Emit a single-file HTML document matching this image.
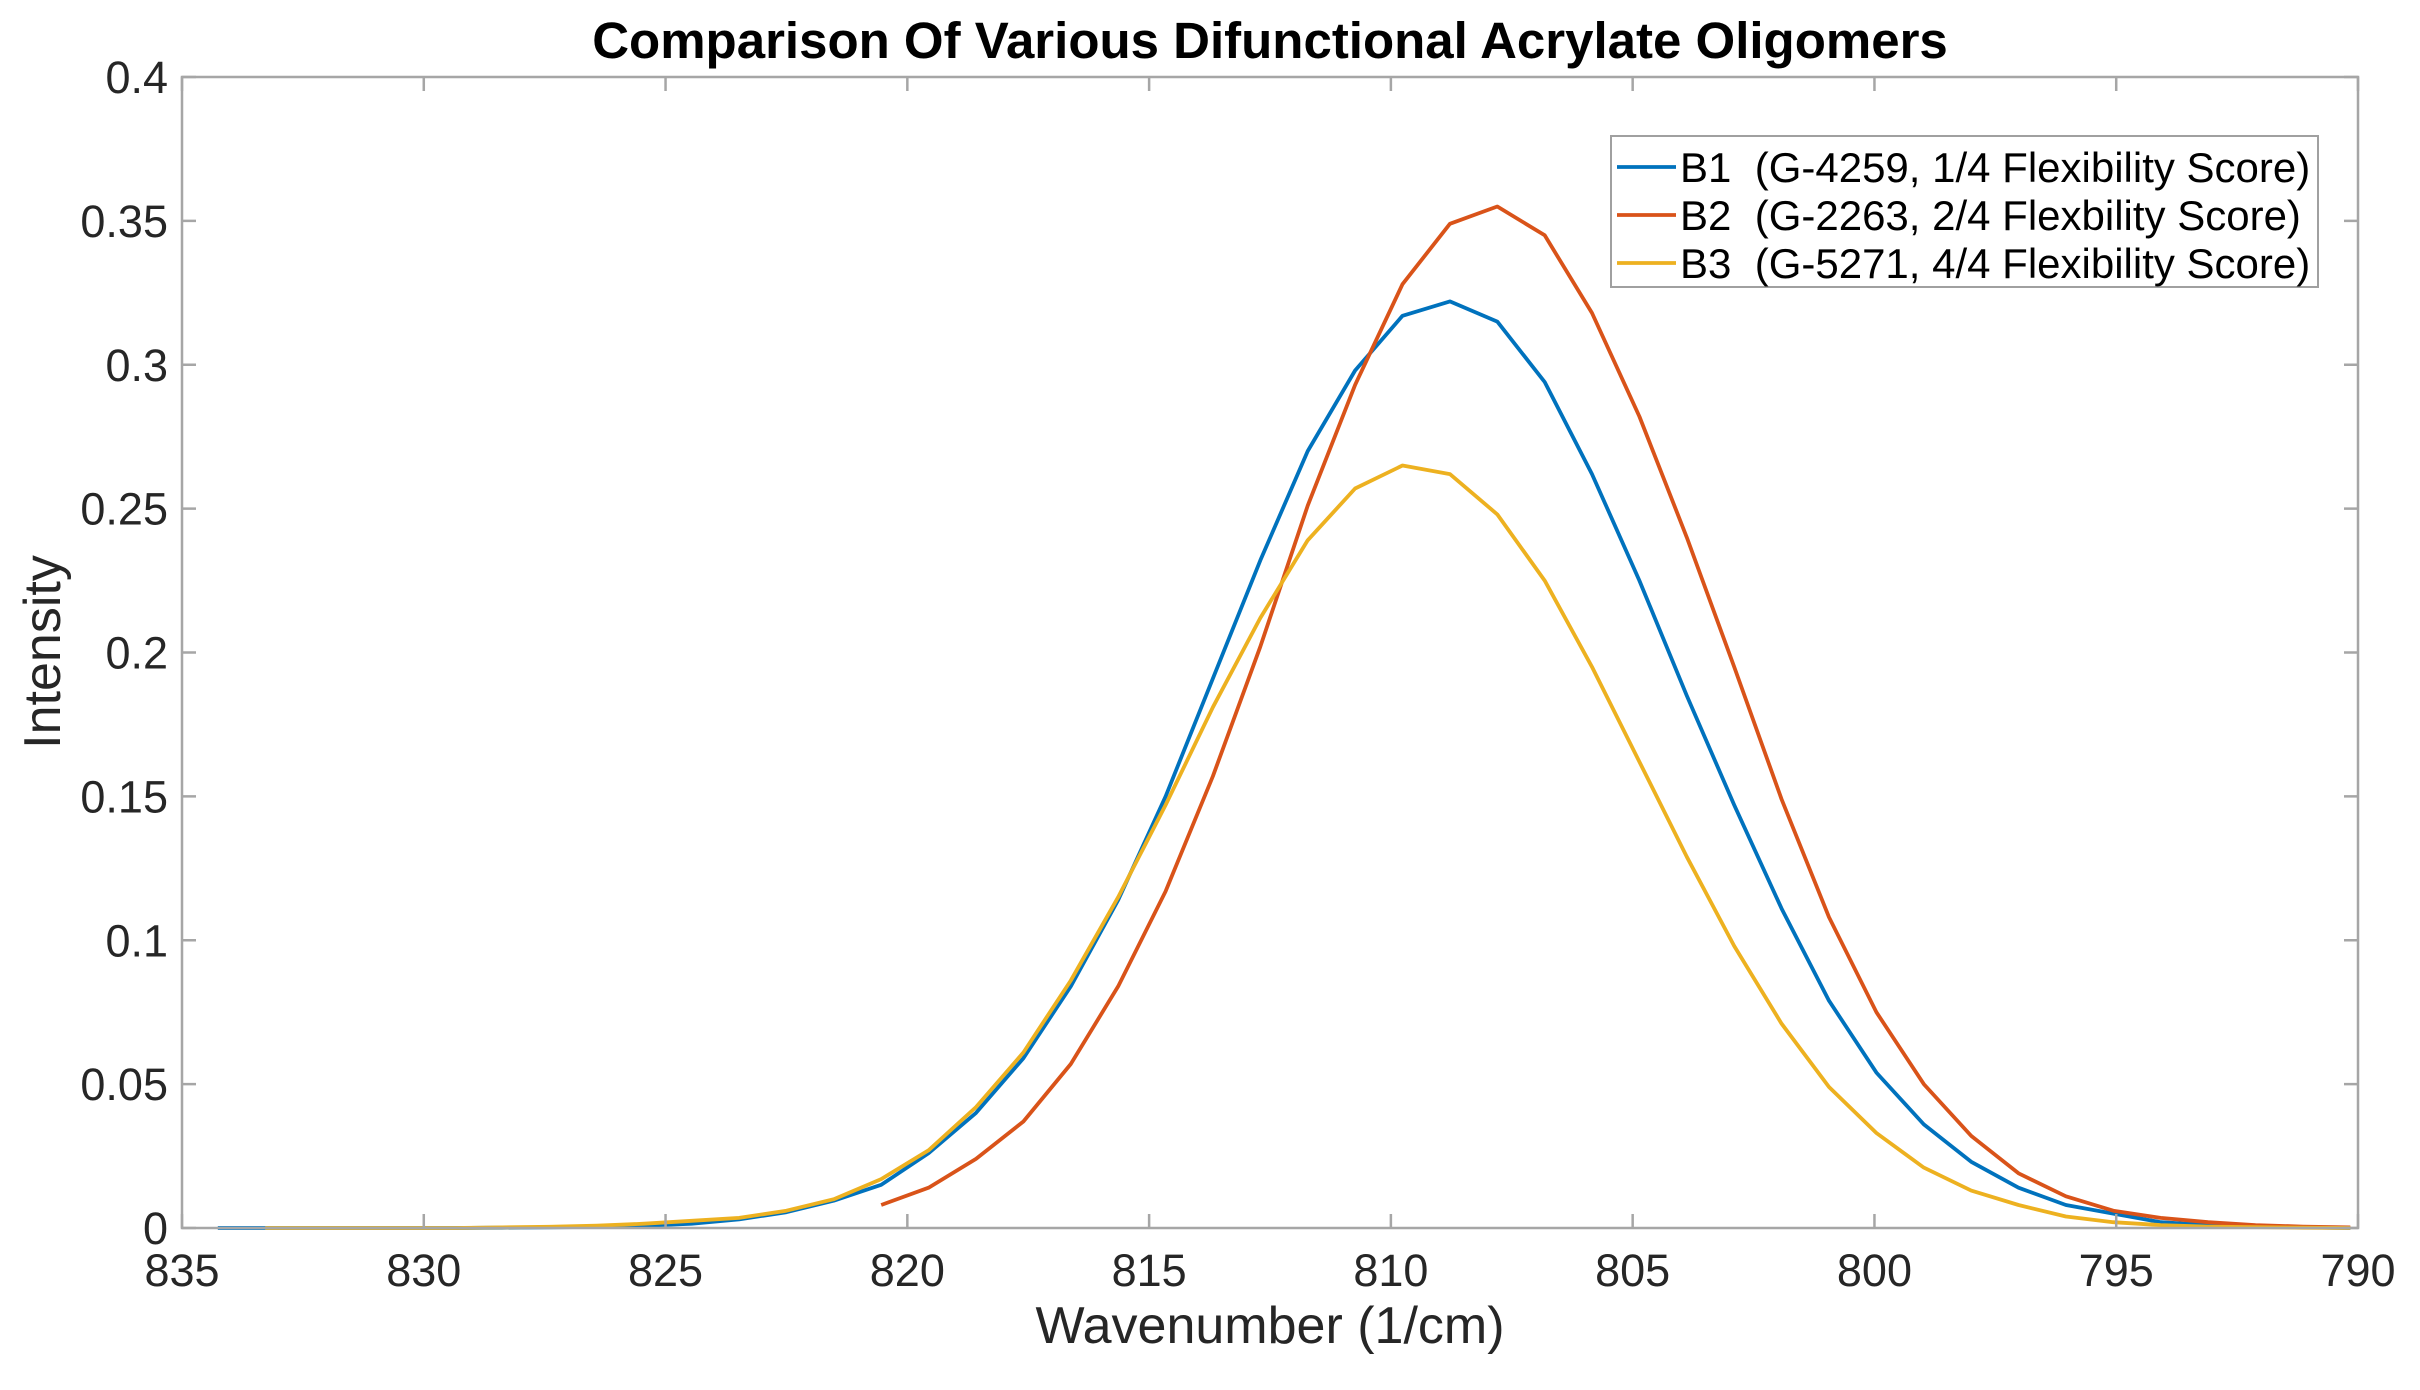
<!DOCTYPE html>
<html><head><meta charset="utf-8"><style>
html,body{margin:0;padding:0;background:#fff;}
svg{display:block;font-family:"Liberation Sans",Arial,sans-serif;}
</style></head><body>
<svg id="chart" width="2420" height="1390" viewBox="0 0 2420 1390" xmlns="http://www.w3.org/2000/svg">
<rect width="2420" height="1390" fill="#fff"/>
<g id="grid-layer"></g>
<g id="series-layer"></g>
<g id="axis-layer"></g>
<text x="1270" y="58" text-anchor="middle" font-size="51" font-weight="bold" fill="#000">Comparison Of Various Difunctional Acrylate Oligomers</text>
<text x="1270" y="1343" text-anchor="middle" font-size="52" fill="#262626">Wavenumber (1/cm)</text>
<text transform="translate(60,652) rotate(-90)" text-anchor="middle" font-size="52" fill="#262626">Intensity</text>
<g>
<rect x="1611" y="136" width="707" height="151" fill="#fff" stroke="#a0a0a0" stroke-width="2"/>
<g id="legend-entries"></g>
</g>
</svg>
<script>
const wavenumbers = [834.26,833.28,832.30,831.32,830.34,829.36,828.38,827.40,826.42,825.44,824.46,823.48,822.50,821.52,820.54,819.56,818.58,817.60,816.62,815.64,814.66,813.68,812.70,811.72,810.74,809.76,808.78,807.80,806.82,805.84,804.86,803.88,802.90,801.92,800.94,799.96,798.98,798.00,797.02,796.04,795.06,794.08,793.10,792.12,791.14,790.16];
const seriesB1 = [0,0,0,0,0,0,0.0001,0.0002,0.0004,0.0008,0.0015,0.003,0.0055,0.0095,0.015,0.026,0.04,0.059,0.084,0.114,0.15,0.191,0.232,0.27,0.298,0.317,0.322,0.315,0.294,0.262,0.225,0.185,0.147,0.111,0.079,0.054,0.036,0.023,0.014,0.008,0.005,0.002,0.001,0.0005,0.0002,0];
const seriesB2 = [null,null,null,null,null,null,null,null,null,null,null,null,null,null,0.008,0.014,0.024,0.037,0.057,0.084,0.117,0.157,0.202,0.251,0.293,0.328,0.349,0.355,0.345,0.318,0.282,0.24,0.195,0.149,0.108,0.075,0.05,0.032,0.019,0.011,0.006,0.0035,0.002,0.001,0.0005,0.0002];
const seriesB3 = [null,0,0,0,0,0,0.0002,0.0004,0.0008,0.0015,0.0025,0.0035,0.006,0.01,0.017,0.027,0.042,0.061,0.086,0.115,0.147,0.181,0.212,0.239,0.257,0.265,0.262,0.248,0.225,0.195,0.162,0.129,0.098,0.071,0.049,0.033,0.021,0.013,0.008,0.004,0.002,0.001,0.0005,0.0003,0.0001,0];
const xTicks = [835,830,825,820,815,810,805,800,795,790];
const yTicks = [0,0.05,0.1,0.15,0.2,0.25,0.3,0.35,0.4];
const yTickLabels = ["0","0.05","0.1","0.15","0.2","0.25","0.3","0.35","0.4"];
const legendLabels = ["B1\u00a0\u00a0(G-4259, 1/4 Flexibility Score)","B2\u00a0\u00a0(G-2263, 2/4 Flexbility Score)","B3\u00a0\u00a0(G-5271, 4/4 Flexibility Score)"];

const L=182,R=2358,T=77,B=1228;
const xMin=835,xMax=790,yMin=0,yMax=0.4;
function xs(v){return L+(v-xMin)/(xMax-xMin)*(R-L);}
function ys(v){return B-(v-yMin)/(yMax-yMin)*(B-T);}
const NS="http://www.w3.org/2000/svg";
function mk(tag,attrs,parent){const e=document.createElementNS(NS,tag);for(const k in attrs)e.setAttribute(k,attrs[k]);parent.appendChild(e);return e;}

const axis=document.getElementById('axis-layer');
const box=mk('rect',{x:L,y:T,width:R-L,height:B-T,fill:'none',stroke:'#a6a6a6','stroke-width':2.5},axis);


xTicks.forEach(function(t){
  const x=xs(t);
  const g=mk('g',{},axis);
  
  
  mk('line',{x1:x,y1:B,x2:x,y2:B-14,stroke:'#a6a6a6','stroke-width':2.5},g);
  mk('line',{x1:x,y1:T,x2:x,y2:T+14,stroke:'#a6a6a6','stroke-width':2.5},g);
  const tx=mk('text',{x:x,y:1286,'text-anchor':'middle','font-size':45,fill:'#262626'},g);
  tx.textContent=String(t);
});
yTicks.forEach(function(t,i){
  const y=ys(t);
  const g=mk('g',{},axis);
  
  
  mk('line',{x1:L,y1:y,x2:L+14,y2:y,stroke:'#a6a6a6','stroke-width':2.5},g);
  mk('line',{x1:R,y1:y,x2:R-14,y2:y,stroke:'#a6a6a6','stroke-width':2.5},g);
  const tx=mk('text',{x:168,y:y+16,'text-anchor':'end','font-size':45,fill:'#262626'},g);
  tx.textContent=yTickLabels[i];
});

const colors=['#0072bd','#d95319','#edb120'];
const allSeries=[seriesB1,seriesB2,seriesB3];
const sl=document.getElementById('series-layer');
allSeries.forEach(function(s,si){
  let d='';let started=false;
  s.forEach(function(v,i){
    if(v===null||v===undefined){started=false;return;}
    d+=(started?'L':'M')+xs(wavenumbers[i]).toFixed(1)+' '+ys(v).toFixed(1)+' ';
    started=true;
  });
  const p=mk('path',{d:d,fill:'none',stroke:colors[si],'stroke-width':3.8,'stroke-linejoin':'round'},sl);
  
  
});

const le=document.getElementById('legend-entries');
legendLabels.forEach(function(lab,i){
  const y=167+i*48;
  const g=mk('g',{},le);
  
  
  mk('line',{x1:1617,y1:y,x2:1676,y2:y,stroke:colors[i],'stroke-width':3.8},g);
  const tx=mk('text',{x:1680,y:y+15,'font-size':42,fill:'#000'},g);
  tx.textContent=lab;
});
</script>
</body></html>
